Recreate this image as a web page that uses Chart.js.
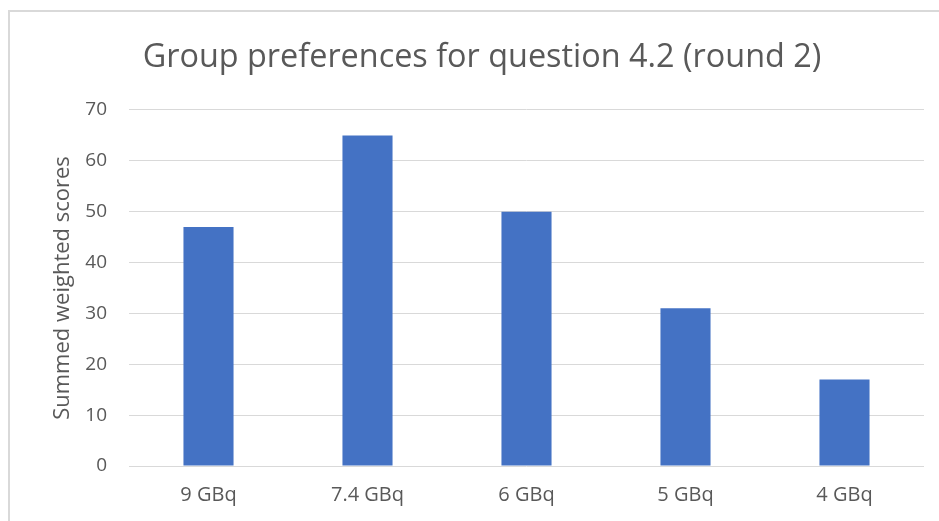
<!DOCTYPE html>
<html>
<head>
<meta charset="utf-8">
<script src="https://cdn.jsdelivr.net/npm/chart.js@4"></script>
<style>
  html, body { margin: 0; padding: 0; background: #fff; overflow: hidden; }
  #wrap { position: relative; width: 939px; height: 521px; }
  #frame {
    position: absolute; left: 8px; top: 10px; width: 960px; height: 540px;
    border: 2px solid #d9d9d9; pointer-events: none;
  }
</style>
</head>
<body>
<div id="wrap">
  <canvas id="myChart" width="939" height="521"></canvas>
  <div id="frame"></div>
</div>
<script>
const categories = ["9 GBq", "7.4 GBq", "6 GBq", "5 GBq", "4 GBq"];
const scores = [47, 65, 50, 31, 17];
const yTicks = [0, 10, 20, 30, 40, 50, 60, 70];

const textColor = '#595959';
const fontFamily = "'Open Sans', 'Noto Sans', sans-serif";

const ctx = document.getElementById("myChart").getContext("2d");

const chart = new Chart(ctx, {
  type: 'bar',
  data: {
    labels: categories,
    datasets: [{
      label: 'Summed weighted scores',
      data: scores,
      backgroundColor: '#4472C4',
      borderWidth: 0,
      categoryPercentage: 1,
      barPercentage: 0.315
    }]
  },
  options: {
    responsive: false,
    animation: false,
    layout: { padding: { left: 40, right: 15, top: 0, bottom: 0 } },
    plugins: {
      legend: { display: false },
      tooltip: { enabled: false },
      title: {
        display: true,
        text: 'Group preferences for question 4.2 (round 2)',
        color: textColor,
        font: { family: fontFamily, size: 32.4, weight: 'normal', lineHeight: 1.2 },
        padding: { top: 38, bottom: 33.1 }
      }
    },
    scales: {
      y: {
        min: 0,
        max: 70,
        afterBuildTicks: function (scale) {
          scale.ticks = yTicks.map(v => ({ value: v }));
        },
        afterFit: function (scale) { scale.width = 89; },
        border: { display: false },
        grid: { color: '#d9d9d9', lineWidth: 1, drawTicks: false },
        ticks: {
          color: textColor,
          padding: 22,
          font: { family: fontFamily, size: 19 }
        },
        title: {
          display: true,
          text: 'Summed weighted scores',
          color: textColor,
          font: { family: fontFamily, size: 22, lineHeight: 1.2 },
          padding: { top: 10, bottom: 0 }
        }
      },
      x: {
        afterFit: function (scale) { scale.height = 55; },
        border: { display: false },
        grid: { display: false, drawTicks: false },
        ticks: {
          color: textColor,
          padding: 17,
          font: { family: fontFamily, size: 20 }
        }
      }
    }
  }
});
</script>
</body>
</html>
